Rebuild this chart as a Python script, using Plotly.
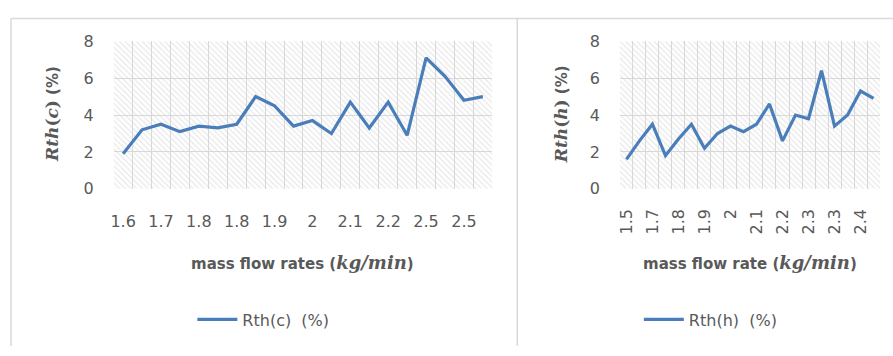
import plotly.graph_objects as go

# Thermal resistance ratios against mass flow rate (two panels)
rth_c = [1.9, 3.2, 3.5, 3.1, 3.4, 3.3, 3.5, 5.0, 4.5, 3.4,
         3.7, 3.0, 4.7, 3.3, 4.7, 2.9, 7.1, 6.1, 4.8, 5.0]
ticks_c = ["1.6", "1.7", "1.8", "1.8", "1.9", "2", "2.1", "2.2", "2.5", "2.5"]

rth_h = [1.6, 2.6, 3.5, 1.8, 2.7, 3.5, 2.2, 3.0, 3.4, 3.1,
         3.5, 4.6, 2.6, 4.0, 3.8, 6.4, 3.4, 4.0, 5.3, 4.9]
ticks_h = ["1.5", "1.7", "1.8", "1.9", "2", "2.1", "2.2", "2.3", "2.3", "2.4"]

LINE = "#4A7EBB"
TXT = "#595959"
GRID = "#D9D9D9"
FONT = "'DejaVu Sans', sans-serif"
SERIF = "'DejaVu Serif', serif"

W, H = 893, 356


def px_x(p):
    return p / W


def px_y(p):
    return 1 - p / H


fig = go.Figure()

panels = [
    dict(vals=rth_c, ticks=ticks_c, xa="x", ya="y", name="Rth(c) &nbsp;(%)",
         legend="legend", dom=(111, 491), angle=0),
    dict(vals=rth_h, ticks=ticks_h, xa="x2", ya="y2", name="Rth(h) &nbsp;(%)",
         legend="legend2", dom=(619, 880), angle=-90),
]

for p in panels:
    n = len(p["vals"])
    idx = list(range(n))
    lo, hi = -0.5, n - 0.5
    # hatched plot-area fill
    fig.add_trace(go.Scatter(
        x=[lo, hi, hi, lo, lo], y=[0, 0, 8, 8, 0], xaxis=p["xa"], yaxis=p["ya"],
        mode="lines", line=dict(width=0), fill="toself",
        fillcolor="rgba(0,0,0,0)",
        fillpattern=dict(shape="\\", fgcolor="#D2D2D2", bgcolor="rgba(0,0,0,0)",
                         size=4, solidity=0.32),
        hoverinfo="skip", showlegend=False))
    fig.add_trace(go.Scatter(
        x=idx, y=p["vals"], xaxis=p["xa"], yaxis=p["ya"], mode="lines",
        line=dict(color=LINE, width=3.2), name=p["name"], legend=p["legend"]))

ydom = [px_y(190), px_y(34)]

for i, p in enumerate(panels):
    n = len(p["vals"])
    sfx = "" if i == 0 else "2"
    fig.update_layout(**{
        "xaxis" + sfx: dict(
            domain=[px_x(p["dom"][0]), px_x(p["dom"][1])],
            range=[-0.5, n - 0.5], anchor="y" + sfx,
            tickvals=list(range(0, n, 2)), ticktext=p["ticks"],
            tickangle=p["angle"], showgrid=False, zeroline=False,
            showline=False, ticks="",
            ticklabelstandoff=21 if i == 0 else 16,
            tickfont=dict(family=FONT, size=16, color=TXT),
            minor=dict(tickvals=[k - 0.5 for k in range(n + 1)], showgrid=True,
                       gridcolor=GRID, gridwidth=1, ticks=""),
        ),
        "yaxis" + sfx: dict(
            domain=ydom, range=[0, 8], dtick=2, anchor="x" + sfx,
            showgrid=True, gridcolor=GRID, gridwidth=1, zeroline=False,
            showline=False, ticks="", ticklabelstandoff=19,
            tickfont=dict(family=FONT, size=16, color=TXT),
        ),
    })

# chart-area frames
frames = [
    dict(type="line", x0=px_x(8), x1=1, y0=px_y(10), y1=px_y(10)),
    dict(type="line", x0=px_x(8), x1=px_x(8), y0=px_y(10), y1=0),
    dict(type="line", x0=px_x(516), x1=px_x(516), y0=px_y(10), y1=0),
]
for f in frames:
    fig.add_shape(xref="paper", yref="paper", line=dict(color=GRID, width=1.5), **f)

# axis titles
ytitles = [(49, "c"), (560, "h")]
for x, s in ytitles:
    fig.add_annotation(
        xref="paper", yref="paper", x=px_x(x), y=px_y(111), textangle=-90,
        showarrow=False, xanchor="center", yanchor="middle",
        text=(f"<b><span style=\"font-family:{SERIF};font-size:17px\">"
              f"<i>Rth</i>(<i>{s}</i>)</span> (%)</b>"),
        font=dict(family=FONT, size=15, color=TXT))

xtitles = [(301, "mass flow rates"), (750, "mass flow rate")]
for x, t in xtitles:
    fig.add_annotation(
        xref="paper", yref="paper", x=px_x(x), y=px_y(268), showarrow=False,
        xanchor="center", yanchor="middle",
        text=(f"<b>{t} (<span style=\"font-family:{SERIF};font-size:18px\">"
              f"<i>kg/min</i></span>)</b>"),
        font=dict(family=FONT, size=15, color=TXT))

legend_style = dict(font=dict(family=FONT, size=16, color=TXT),
                    bgcolor="rgba(0,0,0,0)", yanchor="middle", xanchor="left",
                    orientation="h", itemwidth=40)
fig.update_layout(
    width=W, height=H, margin=dict(l=0, r=0, t=0, b=0),
    paper_bgcolor="white", plot_bgcolor="white",
    legend=dict(x=px_x(190), y=px_y(328), **legend_style),
    legend2=dict(x=px_x(638), y=px_y(328), **legend_style),
)

fig.write_html("out.html")
